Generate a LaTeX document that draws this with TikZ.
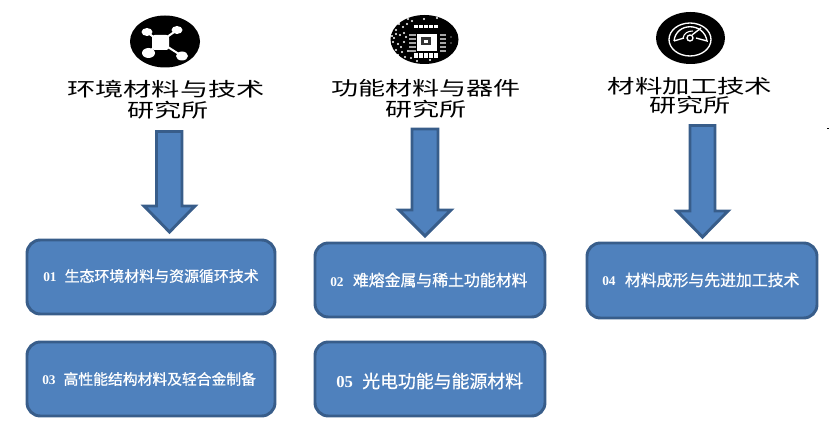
\documentclass[tikz,border=0pt]{standalone}
\usepackage{fontspec}
\setmainfont{Liberation Serif}
\newfontfamily\cjk{Noto Sans CJK SC}
\newfontfamily\cjkb[FakeBold=0.8]{Noto Sans CJK SC}
\definecolor{boxfill}{HTML}{4F81BD}
\definecolor{boxline}{HTML}{385D8A}
\tikzset{
 px/.style={x=0.75pt,y=-0.75pt},
 topicbox/.style={draw=boxline,line width=2.2pt,fill=boxfill,rounded corners=10pt,minimum width=0.75pt*248,minimum height=0.75pt*74,inner sep=0pt},
 widebox/.style={topicbox,minimum width=0.75pt*230},
 titleline/.style={font=\cjk,text=black,inner sep=0pt},
 toplabel/.style={text=white,inner sep=0pt,anchor=west},
 blockarrow/.style={fill=boxfill,draw=boxline,line width=2.2pt,line join=miter},
}
\newcommand{\ttl}[2][1.41]{\scalebox{#1}[1]{\fontsize{14.4pt}{14.4pt}\selectfont #2}}
\newcommand{\numlab}[1]{{\fontsize{10pt}{10pt}\selectfont\bfseries #1}}
\newcommand{\toptext}[2]{{\cjkb\fontsize{#1pt}{#1pt}\selectfont #2}}
\begin{document}
\begin{tikzpicture}[px]
\useasboundingbox (0,0) rectangle (835,445);
% icon 1: network
\fill[black] (165,41.5) ellipse (35 and 26);
\begin{scope}[white]
 \fill[rounded corners=2pt] (152,35) rectangle (169,50);
 \draw[line width=1.5pt] (147,32)--(160,42)--(177,30) (148,53)--(160,42)--(182,56);
 \fill (147,32) ellipse (5.5 and 4);
 \fill (177,30) ellipse (5.5 and 4);
 \fill (148.5,53) ellipse (6.5 and 5);
 \fill (182,56) ellipse (6 and 4.5);
\end{scope}
% icon 2: chip
\fill[black] (424.5,39.5) ellipse (34 and 24.5);
\fill[white] (417,34) rectangle (437,51);
\foreach \i in {0,...,4}{
 \fill[white] (414+\i*5,25) rectangle (417.5+\i*5,28);
 \fill[white] (414+\i*5,53) rectangle (417.5+\i*5,58);
 \fill[black!35] (409,34+\i*4) rectangle (416,36+\i*4);
 \fill[black!35] (440,34+\i*4) rectangle (446,36+\i*4);}
\fill[black!80] (421,37) rectangle (431,45);
\fill[white] (424,40) rectangle (428,43);
\foreach \p in {(396,30),(398,44),(394,38),(402,52),(408,19),(399,24),(405,57),(393,42),(396,50),(403,27),(400,35),(404,42),(401,47),(407,24),(412,21),(408,51),(398,55),(404,33),(411,58),(417,61),(424,19),(430,60),(437,18),(396,34),(406,37),(392,36)}
 \fill[white] \p circle (1.2);
\fill[white] (451,43) circle (0.7) (451,37) circle (0.7);
% icon 3: gauge
\fill[black] (690.5,38) ellipse (34.5 and 26);
\draw[white,line width=1pt] (690,39.5) ellipse (21 and 16.5);
\draw[white,line width=1pt] (674,41) .. controls (676,22) and (704,22) .. (707,41) -- (696,38) (684,38) -- (674,41);
\draw[white,line width=1pt] (690,38) circle (3);
\draw[white,line width=1pt] (692,35) -- (701,28);
\draw[white,line width=0.8pt] (683,38) .. controls (684,33) and (688,31) .. (693,31);
% titles
\node[titleline] (t1a) at (166,89) {\ttl[1.47]{环境材料与技术}};
\node[titleline] (t1b) at (168,110) {\ttl{研究所}};
\node[titleline] (t2a) at (426,88.5) {\ttl{功能材料与器件}};
\node[titleline] (t2b) at (426,109) {\ttl{研究所}};
\node[titleline] (t3a) at (690,86) {\ttl[1.43]{材料加工技术}};
\node[titleline] (t3b) at (690,105.5) {\ttl{研究所}};
% boxes
\node[topicbox] (b1) at (151,277) {};
\node[topicbox] (b3) at (151,379) {};
\node[widebox] (b2) at (430,280) {};
\node[widebox] (b5) at (430,379) {};
\node[widebox,minimum height=0.75pt*75] (b4) at (702,280.5) {};
\node[toplabel] (l1) at (43,276) {\numlab{01}\hspace{6pt}\toptext{11.2}{生态环境材料与资源循环技术}};
\node[toplabel] (l3) at (42,379) {\numlab{03}\hspace{6pt}\toptext{11.1}{高性能结构材料及轻合金制备}};
\node[toplabel] (l2) at (330,280) {\numlab{02}\hspace{7pt}\toptext{11.9}{难熔金属与稀土功能材料}};
\node[toplabel] (l5) at (336,381) {{\fontsize{12.5pt}{12.5pt}\selectfont\bfseries 05}\hspace{7pt}\toptext{13.4}{光电功能与能源材料}};
\node[toplabel] (l4) at (602,280) {\numlab{04}\hspace{7pt}\toptext{11.9}{材料成形与先进加工技术}};
% block arrows
\draw[blockarrow] (156.5,131.5)--(182,131.5)--(182,206)--(195,206)--(169.5,232)--(144,206)--(156.5,206)--cycle;
\draw[blockarrow] (412,129)--(438,129)--(438,210)--(451,210)--(425,236)--(399,210)--(412,210)--cycle;
\draw[blockarrow] (690,125.5)--(715,125.5)--(715,211)--(728,211)--(702.5,237)--(677,211)--(690,211)--cycle;
\fill[black] (827,128) rectangle (828.5,129.5);
\end{tikzpicture}
\end{document}
